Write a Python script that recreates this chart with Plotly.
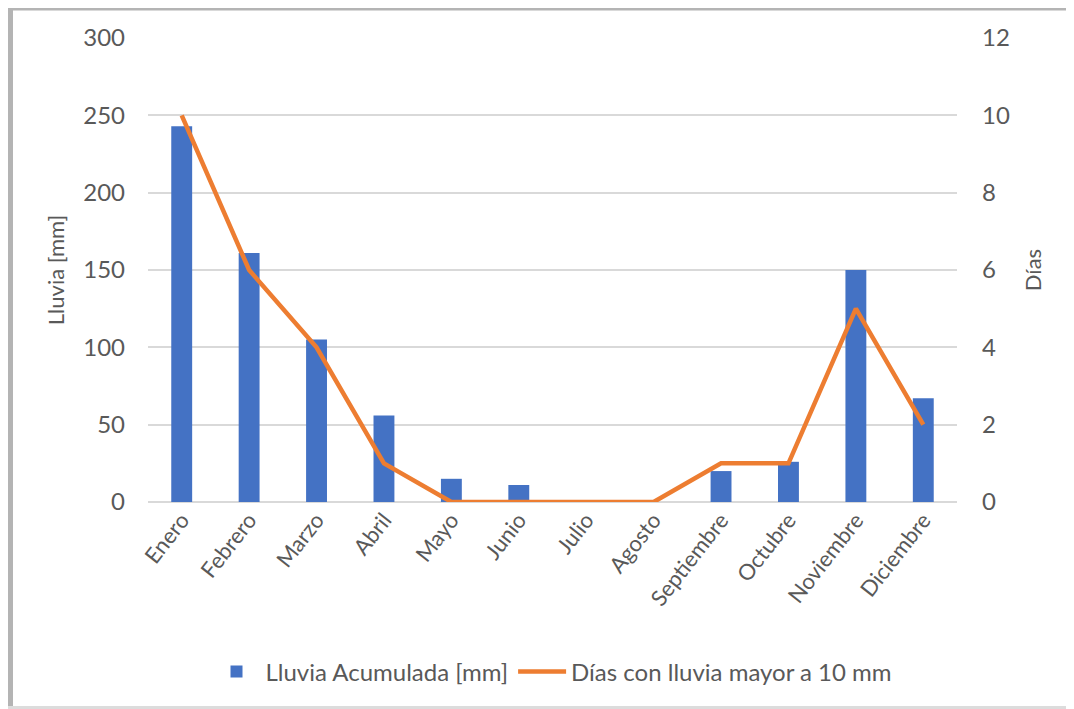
import plotly.graph_objects as go

meses = ["Enero", "Febrero", "Marzo", "Abril", "Mayo", "Junio", "Julio",
         "Agosto", "Septiembre", "Octubre", "Noviembre", "Diciembre"]
lluvia_mm = [243, 161, 105, 56, 15, 11, 0, 0, 20, 26, 150, 67]
dias_lluvia = [10, 6, 4, 1, 0, 0, 0, 0, 1, 1, 5, 2]

# page body has an 8px margin; figure sized to fit inside the window
OFF = 8
W, H = 1074 - OFF, 709 - OFF
L, T = 148 - OFF, 38 - OFF
PW, PH = 809, 464
R, B = W - L - PW, H - T - PH

def px(x):  # figure pixel -> paper
    return (x - L) / PW

def py(y):  # figure pixel -> paper
    return (T + PH - y) / PH

FONT = "Lato"
GRAY = "#595959"

fig = go.Figure()
fig.add_trace(go.Bar(x=meses, y=lluvia_mm, name="Lluvia Acumulada [mm]",
                     marker=dict(color="#4472C4", line=dict(width=0)),
                     yaxis="y"))
fig.add_trace(go.Scatter(x=meses, y=dias_lluvia, name="Días con lluvia mayor a 10 mm",
                         mode="lines", line=dict(color="#ED7D31", width=4.5),
                         yaxis="y2"))

shapes = [
    dict(type="rect", xref="paper", yref="paper", x0=px(0), x1=px(W), y0=py(2.5), y1=py(0),
         fillcolor="#b4b4b4", line=dict(width=0), layer="above"),
    dict(type="rect", xref="paper", yref="paper", x0=px(0), x1=px(5), y0=py(H), y1=py(0),
         fillcolor="#b4b4b4", line=dict(width=0), layer="above"),
    dict(type="rect", xref="paper", yref="paper", x0=px(0), x1=px(W), y0=py(H), y1=py(H - 3),
         fillcolor="#dcdcdc", line=dict(width=0), layer="above"),
]

fig.update_layout(
    width=W, height=H,
    margin=dict(l=L, r=R, t=T, b=B, autoexpand=False),
    paper_bgcolor="white", plot_bgcolor="white",
    font=dict(family=FONT, size=22, color=GRAY),
    bargap=0.69,
    showlegend=True,
    legend=dict(orientation="h", x=0.5, xanchor="center", y=py(672 - OFF), yanchor="middle",
                font=dict(family=FONT, size=24, color=GRAY), traceorder="normal",
                itemwidth=48),
    xaxis=dict(tickangle=-52, showgrid=False, showline=False, ticks="",
               tickfont=dict(family=FONT, size=22, color=GRAY), range=[-0.5, 11.5]),
    yaxis=dict(range=[0, 300], dtick=50, showgrid=True, gridcolor="#d9d9d9", gridwidth=1.5,
               zeroline=True, zerolinecolor="#d9d9d9", zerolinewidth=1.5,
               showline=False, ticks="", ticklabelstandoff=22,
               tickfont=dict(family=FONT, size=24, color=GRAY),
               title=dict(text="Lluvia [mm]", font=dict(family=FONT, size=22, color=GRAY), standoff=12)),
    yaxis2=dict(range=[0, 12], dtick=2, overlaying="y", side="right", showgrid=False,
                zeroline=False, showline=False, ticks="", ticklabelstandoff=24,
                tickfont=dict(family=FONT, size=24, color=GRAY),
                title=dict(text="Días", font=dict(family=FONT, size=22, color=GRAY), standoff=16)),
    shapes=shapes,
)

fig.write_html("out.html")
